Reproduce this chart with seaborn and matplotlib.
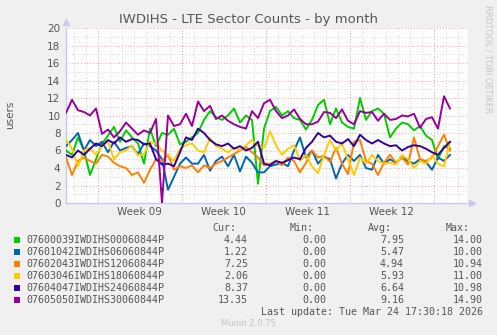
import numpy as np
import pandas as pd
import matplotlib
matplotlib.use('Agg')
import matplotlib.pyplot as plt
from matplotlib.patches import Rectangle
import seaborn as sns

# series names / colours (munin palette)
names = ['07600039IWDIHS00060844P', '07601042IWDIHS06060844P', '07602043IWDIHS12060844P',
         '07603046IWDIHS18060844P', '07604047IWDIHS24060844P', '07605050IWDIHS30060844P']
colors = ['#00cc00', '#0066b3', '#ff8000', '#ffcc00', '#330099', '#990099']

# samples every half day
green = [6.0, 5.5, 7.5, 6.0, 3.2, 5.0, 6.8, 7.7, 8.7, 7.0, 8.3, 7.5, 6.8, 4.5, 8.5, 6.5, 8.0,
         7.8, 8.5, 6.7, 7.0, 7.5, 8.0, 9.5, 10.5, 9.8, 9.5, 10.0, 10.8, 9.2, 10.0, 9.5, 2.2,
         8.5, 10.5, 11.0, 10.0, 10.5, 9.7, 9.5, 8.4, 9.5, 11.2, 11.8, 9.0, 10.8, 9.2, 8.7, 8.5,
         12.0, 9.5, 10.5, 10.8, 10.2, 7.5, 8.5, 9.2, 9.0, 8.3, 8.8, 7.7, 7.2, 5.0, 6.5, 6.2]
blue = [6.5, 7.2, 8.0, 6.0, 7.2, 6.5, 7.0, 5.8, 7.0, 6.0, 6.3, 6.5, 5.6, 6.8, 6.5, 6.0, 5.0,
        1.5, 3.0, 4.5, 5.2, 4.5, 4.5, 5.5, 3.7, 4.8, 5.3, 4.2, 5.5, 3.6, 5.3, 4.6, 3.5,
        3.5, 4.2, 4.4, 4.6, 4.2, 6.0, 7.5, 5.2, 6.0, 4.5, 5.3, 5.0, 2.8, 4.5, 5.5, 4.8,
        5.5, 4.0, 3.8, 5.5, 4.5, 5.0, 4.6, 5.2, 4.8, 4.5, 5.0, 4.7, 3.8, 5.2, 4.8, 5.5]
orange = [5.2, 3.2, 4.8, 5.2, 4.8, 4.5, 5.5, 5.3, 4.6, 4.2, 4.0, 3.2, 3.5, 2.3, 3.8, 5.0, 4.8,
          5.5, 3.8, 4.2, 4.0, 4.3, 3.5, 4.3, 4.0, 4.5, 4.8, 5.2, 5.6, 6.0, 6.4, 5.8, 5.2,
          4.3, 4.5, 4.8, 4.3, 5.2, 4.8, 3.5, 4.6, 6.0, 5.2, 5.4, 4.7, 6.3, 4.5, 3.3, 7.0,
          7.2, 4.8, 4.5, 3.2, 4.6, 5.5, 4.6, 5.2, 4.4, 7.5, 5.0, 4.8, 5.2, 6.5, 7.8, 6.0]
yellow = [7.2, 6.2, 4.2, 6.0, 6.3, 5.5, 6.5, 7.0, 5.0, 5.8, 6.0, 6.6, 5.4, 5.6, 7.0, 6.8, 6.0,
          5.5, 4.8, 6.2, 6.6, 6.8, 6.0, 5.8, 7.4, 6.5, 6.2, 5.8, 6.3, 6.1, 6.6, 7.2, 6.5,
          6.3, 8.2, 6.6, 5.5, 6.2, 6.6, 4.8, 5.5, 4.2, 3.4, 5.5, 7.2, 6.0, 6.8, 5.0, 3.2,
          5.2, 4.5, 5.5, 4.8, 4.5, 4.6, 4.4, 5.5, 5.0, 4.0, 4.8, 4.5, 5.4, 4.5, 4.2, 7.0]
indigo = [5.5, 5.2, 6.0, 5.5, 6.2, 6.8, 6.5, 7.2, 6.8, 7.5, 7.0, 7.3, 7.2, 6.7, 6.8, 5.0, 4.4,
          4.5, 4.2, 5.8, 7.5, 7.2, 8.5, 8.0, 7.2, 6.7, 6.5, 6.8, 6.2, 6.5, 6.0, 6.3, 7.0,
          4.5, 4.3, 4.8, 4.6, 4.9, 5.2, 5.0, 6.3, 7.0, 8.0, 7.5, 7.7, 7.0, 6.8, 7.3, 6.5,
          7.8, 7.2, 6.8, 7.2, 6.8, 6.5, 6.6, 6.0, 6.4, 6.6, 6.5, 6.2, 5.8, 5.5, 6.3, 7.0]
purple = [10.3, 11.8, 10.6, 10.4, 10.0, 10.8, 7.9, 8.4, 7.5, 8.2, 9.2, 8.5, 7.8, 8.3, 8.0, 9.6, 0.0,
          10.0, 8.8, 9.0, 10.2, 8.8, 11.6, 10.5, 11.1, 9.6, 10.0, 9.4, 9.0, 8.7, 8.5, 10.5, 9.7,
          11.4, 11.8, 10.5, 9.7, 10.0, 10.7, 9.6, 9.0, 9.0, 9.3, 10.4, 10.3, 9.7, 10.7, 9.4, 9.0,
          10.5, 10.3, 10.4, 9.4, 10.2, 9.5, 9.6, 10.0, 9.9, 10.2, 8.6, 9.6, 9.8, 8.5, 12.2, 10.8]

cur = ['4.44', '1.22', '7.25', '2.06', '8.37', '13.35']
mins = ['0.00', '0.00', '0.00', '0.00', '0.00', '0.00']
avg = ['7.95', '5.47', '4.94', '5.93', '6.64', '9.16']
maxs = ['14.00', '10.00', '10.94', '11.00', '10.98', '14.90']
week_labels = ['Week 09', 'Week 10', 'Week 11', 'Week 12']

days = np.arange(len(green)) * 0.5
series = [green, blue, orange, yellow, indigo, purple]
df = pd.concat([pd.DataFrame({'day': days, 'users': s, 'name': n}) for s, n in zip(series, names)])

W, H = 497, 335
fig = plt.figure(figsize=(W / 100, H / 100), dpi=100, facecolor='#f0f0f0')
ax = fig.add_axes([66 / W, 1 - 203 / H, 402 / W, 175 / H])
ax.set_facecolor('white')

# grid like rrdtool
week0 = 2.65
for d in np.arange(week0 - 3, 34, 1.0):
    ax.axvline(d, color='#d4d4d4', lw=0.7, ls=(0, (1, 2)), zorder=0)
for d in np.arange(week0, 34, 7.0):
    ax.axvline(d, color='#e8a8a8', lw=0.7, ls=(0, (1, 2)), zorder=0)
for v in range(1, 21, 2):
    ax.axhline(v, color='#d4d4d4', lw=0.7, ls=(0, (1, 2)), zorder=0)
for v in range(2, 21, 2):
    ax.axhline(v, color='#e8a8a8', lw=0.7, ls=(0, (1, 2)), zorder=0)

sns.lineplot(data=df, x='day', y='users', hue='name', palette=colors, legend=False,
             linewidth=1.4, ax=ax, zorder=3)

ax.set_xlim(0, 33.5)
ax.set_ylim(0, 20)
ax.set_yticks(range(0, 21, 2))
ax.set_xticks([week0 + 3.5 + 7 * i for i in range(4)])
ax.set_xticklabels(week_labels)
ax.tick_params(length=0, labelsize=7.5, colors='#555555', pad=4)
ax.tick_params(axis='x', pad=3)
ax.set_xlabel('')
ax.set_ylabel('')
for s in ['top', 'right']:
    ax.spines[s].set_visible(False)
for s in ['left', 'bottom']:
    ax.spines[s].set_color('#c8c8f0')
    ax.spines[s].set_linewidth(1.0)
ax.plot([0], [1.035], marker='^', color='#c8c8f0', ms=5, transform=ax.transAxes, clip_on=False)
ax.plot([1.01], [0], marker='>', color='#c8c8f0', ms=5, transform=ax.transAxes, clip_on=False)

def fy(y):
    return 1 - y / H

fig.text(0.5, fy(20), 'IWDIHS - LTE Sector Counts - by month', ha='center', va='center',
         fontsize=9.5, color='#555555')
fig.text(10 / W, fy(115), 'users', rotation=90, ha='center', va='center', fontsize=7.5, color='#555555')
fig.text(488 / W, fy(5), 'RRDTOOL / TOBI OETIKER', rotation=270, ha='center', va='top',
         fontsize=6, color='#c4c4c4')

mono = dict(family='DejaVu Sans Mono', fontsize=7.2, color='#555555', va='center')
for x, lab in zip([236, 314, 392, 470], ['Cur:', 'Min:', 'Avg:', 'Max:']):
    fig.text(x / W, fy(228), lab, ha='right', **mono)
for i in range(6):
    y = 240 + 12 * i
    fig.add_artist(Rectangle((14 / W, fy(y + 3)), 6 / W, 6 / H, transform=fig.transFigure,
                             facecolor=colors[i], edgecolor='none'))
    fig.text(26 / W, fy(y), names[i], ha='left', **mono)
    for x, vals in zip([248, 326, 404, 483], [cur, mins, avg, maxs]):
        fig.text(x / W, fy(y), vals[i], ha='right', **mono)
fig.text(483 / W, fy(312), 'Last update: Tue Mar 24 17:30:18 2026', ha='right', **mono)
fig.text(0.5, fy(324), 'Munin 2.0.75', ha='center', va='center', fontsize=6, color='#c4c4c4')

fig.savefig('out.png', dpi=100, facecolor=fig.get_facecolor())
